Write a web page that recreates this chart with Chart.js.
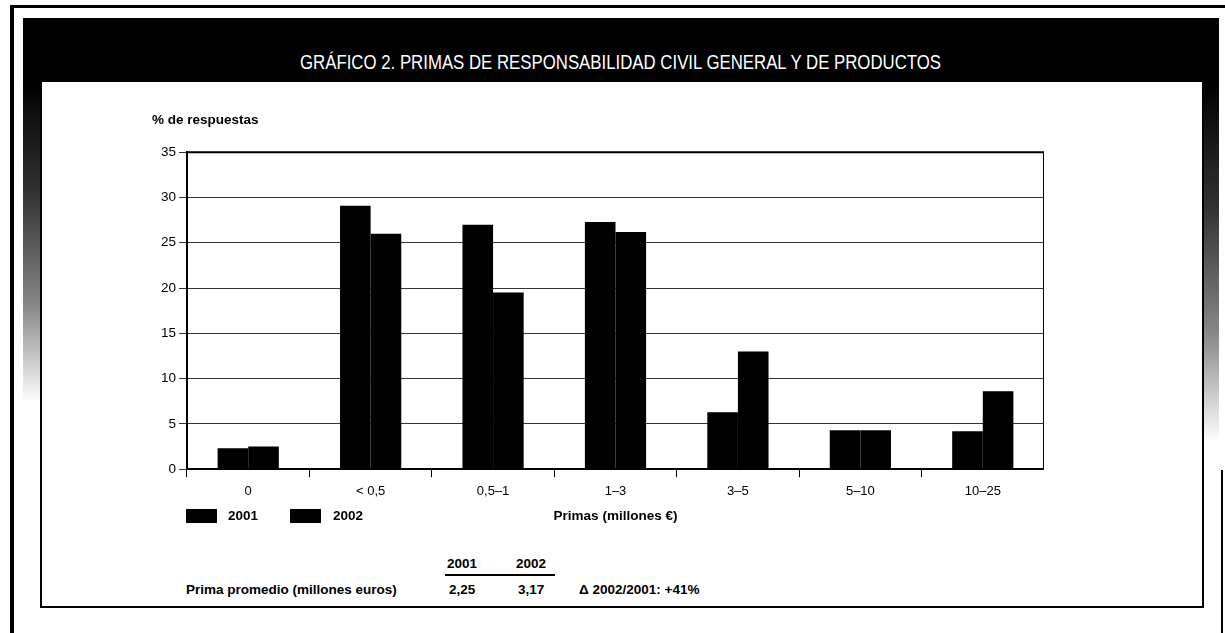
<!DOCTYPE html>
<html lang="es">
<head>
<meta charset="utf-8">
<title>Gráfico 2. Primas de responsabilidad civil general y de productos</title>
<script src="https://cdn.jsdelivr.net/npm/chart.js@4.4.1/dist/chart.umd.min.js"></script>
<style>
    html, body { margin: 0; padding: 0; background: #fff; }
    body { width: 1225px; height: 633px; position: relative; overflow: hidden; font-family: "Liberation Sans", Arial, sans-serif; color: #000; }
    .abs { position: absolute; }
    .negro { background: #000; }
    #banda { left: 23px; top: 18px; width: 1196px; height: 64px; }
    #titulo { left: 300px; top: 48px; color: #fff; font-family: "Liberation Sans", sans-serif; font-size: 21px; line-height: 28px; white-space: nowrap; transform-origin: 0 50%; }
    #tiraIzq { left: 23px; top: 82px; width: 19px; height: 320px; background: linear-gradient(#000 0%, #333 35%, #888 70%, rgba(255,255,255,0) 100%); }
    #tiraDer { left: 1202px; top: 82px; width: 17px; height: 360px; background: linear-gradient(#000 0%, #333 35%, #888 70%, rgba(255,255,255,0) 100%); }
    #panel { left: 40px; top: 82px; width: 1160px; height: 524px; border-left: 2px solid #000; border-right: 2px solid #000; border-bottom: 2px solid #000; background: #fff; }
    #lienzo { left: 152px; top: 100px; width: 892px; height: 429px; }
    .txt { font-weight: bold; font-size: 13.5px; line-height: 16px; white-space: nowrap; }
    .caja { width: 31px; height: 14px; background: #000; }
</style>
</head>
<body>
<div class="abs negro" style="left:10px;top:5px;width:1215px;height:3px;"></div>
<div class="abs negro" style="left:10px;top:5px;width:4px;height:628px;"></div>
<div class="abs negro" style="left:1221px;top:470px;width:2px;height:163px;"></div>
<div id="tiraIzq" class="abs"></div>
<div id="tiraDer" class="abs"></div>
<div id="banda" class="abs negro"></div>
<div id="titulo" class="abs">GRÁFICO 2. PRIMAS DE RESPONSABILIDAD CIVIL GENERAL Y DE PRODUCTOS</div>
<div id="panel" class="abs"></div>
<div id="lienzo" class="abs"><canvas id="grafico"></canvas></div>

<!-- leyenda -->
<div class="abs caja" style="left:186px;top:509px;"></div>
<div class="abs txt" style="left:228px;top:508px;">2001</div>
<div class="abs caja" style="left:290px;top:509px;"></div>
<div class="abs txt" style="left:333px;top:508px;">2002</div>

<!-- tabla de prima promedio -->
<div class="abs txt" style="left:447px;top:556px;">2001</div>
<div class="abs txt" style="left:516px;top:556px;">2002</div>
<div class="abs negro" style="left:445px;top:574px;width:110px;height:2px;"></div>
<div class="abs txt" style="left:186px;top:582px;">Prima promedio (millones euros)</div>
<div class="abs txt" style="left:449px;top:582px;">2,25</div>
<div class="abs txt" style="left:518px;top:582px;">3,17</div>
<div class="abs txt" style="left:579px;top:582px;">Δ 2002/2001: +41%</div>

<script>
// Datos (% de respuestas)
const categorias = ['0', '< 0,5', '0,5–1', '1–3', '3–5', '5–10', '10–25'];
const valores2001 = [2.3, 29.1, 27.0, 27.3, 6.3, 4.3, 4.2];
const valores2002 = [2.5, 26.0, 19.5, 26.2, 13.0, 4.3, 8.6];
const series = ['2001', '2002'];
const ejeYMax = 35;
const ejeYPaso = 5;

// Título condensado: se ajusta al ancho del original
const titulo = document.getElementById('titulo');
const anchoTitulo = titulo.getBoundingClientRect().width;
titulo.style.transform = 'scaleX(' + (641 / anchoTitulo).toFixed(3) + ')';

// Marco superior y derecho del área de trazado
const marcoPlugin = {
    id: 'marco',
    afterDraw(chart) {
        const { ctx, chartArea } = chart;
        ctx.save();
        ctx.strokeStyle = '#000';
        ctx.lineWidth = 2;
        ctx.beginPath();
        ctx.moveTo(chartArea.left, chartArea.top);
        ctx.lineTo(chartArea.right, chartArea.top);
        ctx.lineTo(chartArea.right, chartArea.bottom);
        ctx.stroke();
        ctx.restore();
    }
};

const fuente = { family: '"Liberation Sans", Arial, sans-serif', size: 13.5 };

new Chart(document.getElementById('grafico'), {
    type: 'bar',
    data: {
        labels: categorias,
        datasets: [
            { label: series[0], data: valores2001, backgroundColor: '#000', borderWidth: 0 },
            { label: series[1], data: valores2002, backgroundColor: '#000', borderWidth: 0 }
        ]
    },
    options: {
        responsive: true,
        maintainAspectRatio: false,
        animation: false,
        categoryPercentage: 0.5,
        barPercentage: 1.0,
        layout: { padding: 0 },
        plugins: {
            legend: { display: false },
            tooltip: { enabled: false },
            title: {
                display: true,
                text: '% de respuestas',
                align: 'start',
                color: '#000',
                font: { family: fuente.family, size: 13.5, weight: 'bold' },
                padding: { top: 12, bottom: 24 }
            }
        },
        scales: {
            y: {
                min: 0,
                max: ejeYMax,
                ticks: { stepSize: ejeYPaso, color: '#000', font: fuente, padding: 3 },
                grid: { color: '#333', lineWidth: 1, tickLength: 8 },
                border: { display: true, color: '#000', width: 2 },
                afterFit(scale) { scale.width = 35; }
            },
            x: {
                ticks: { color: '#000', font: { family: fuente.family, size: 13 }, padding: 6 },
                grid: { offset: true, drawOnChartArea: false, drawTicks: true, tickLength: 8, color: '#000', lineWidth: 1 },
                border: { display: true, color: '#000', width: 2 },
                title: {
                    display: true,
                    text: 'Primas (millones €)',
                    color: '#000',
                    font: { family: fuente.family, size: 13.5, weight: 'bold' },
                    padding: { top: 3, bottom: 5 }
                }
            }
        }
    },
    plugins: [marcoPlugin]
});
</script>
</body>
</html>
